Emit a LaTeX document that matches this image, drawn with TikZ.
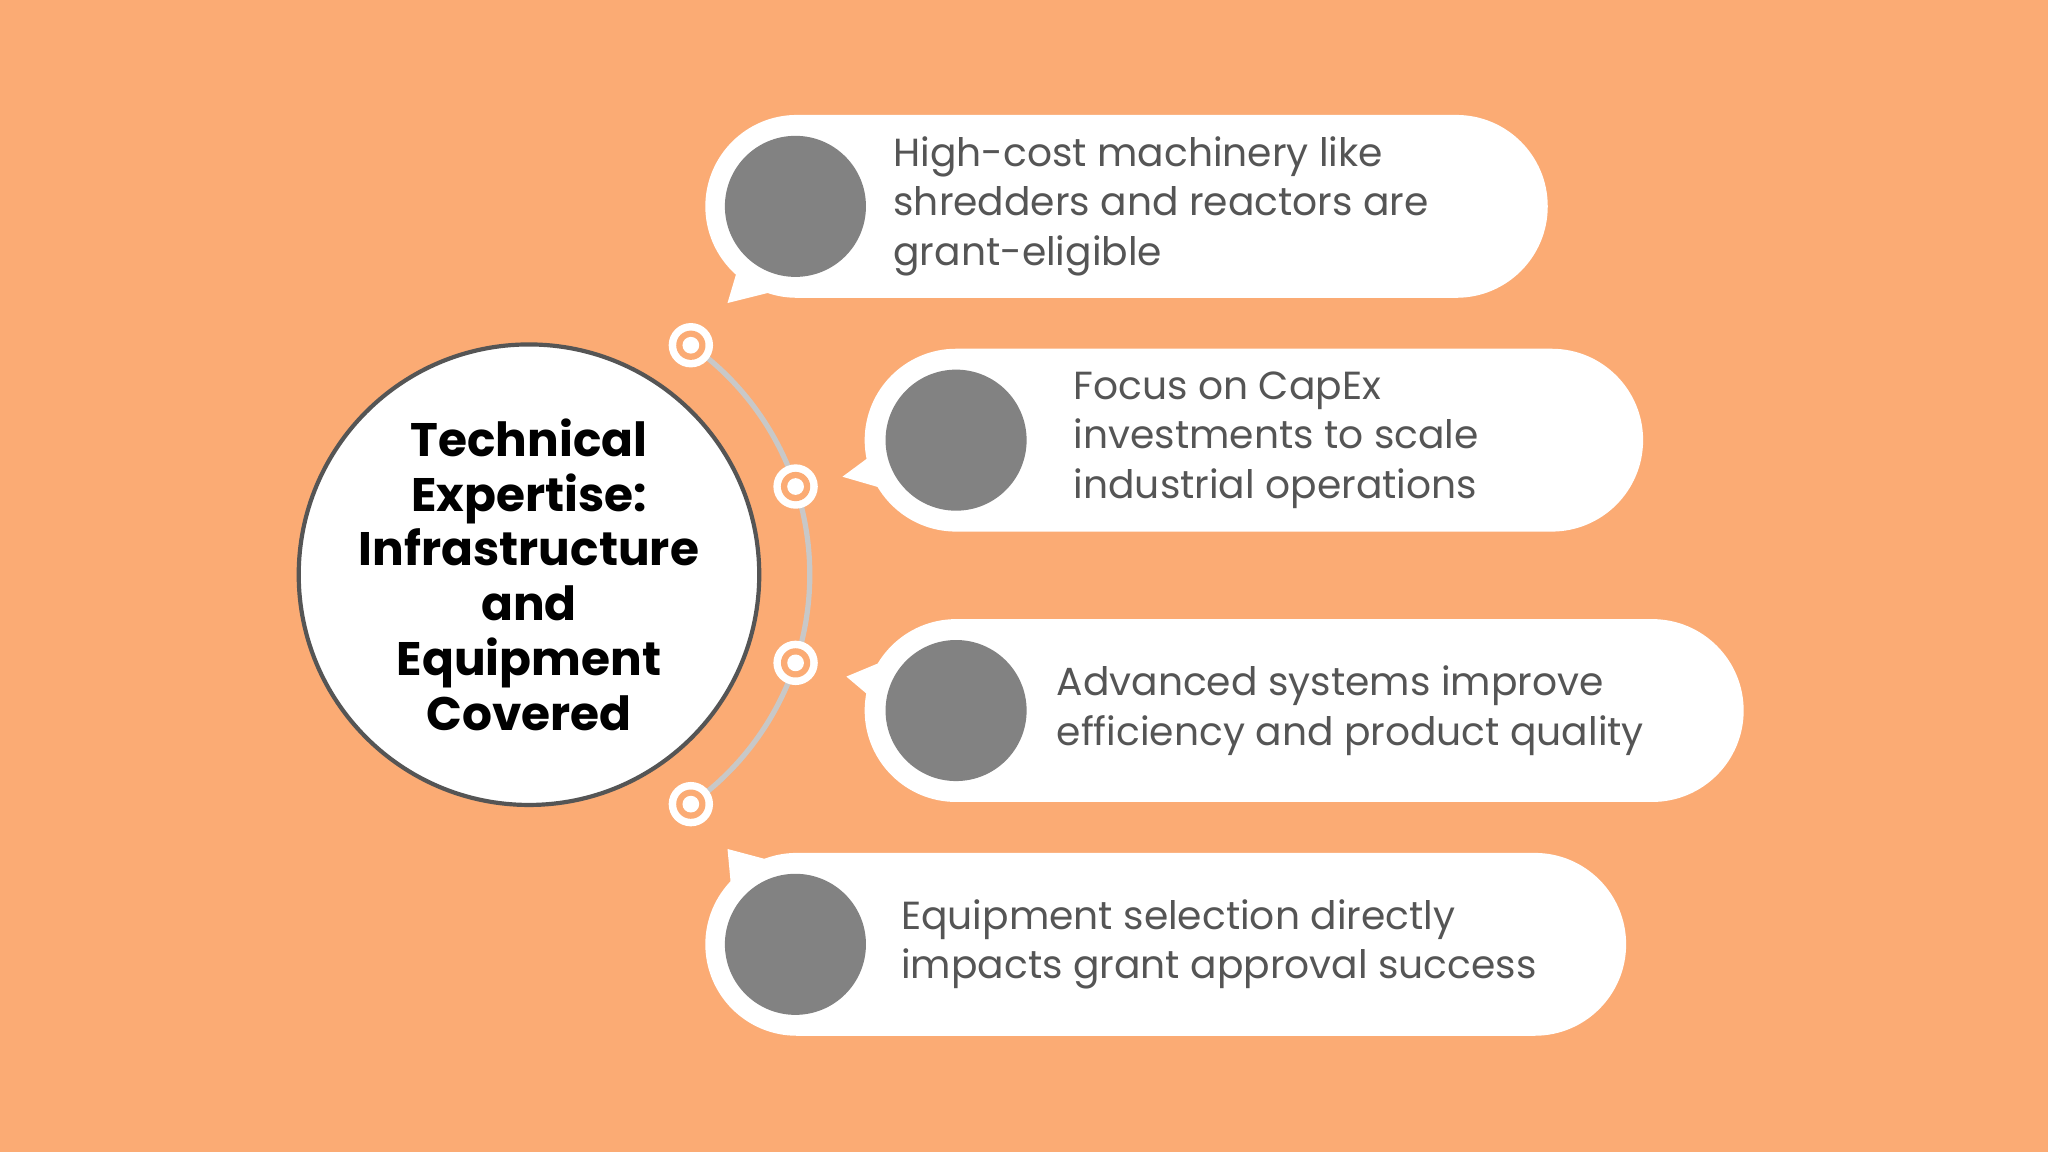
\documentclass[tikz,border=0pt]{standalone}
\usepackage{fontspec}
\setmainfont{Poppins}
\definecolor{bg}{HTML}{FBAB74}
\definecolor{txt}{HTML}{555555}
\definecolor{dot}{HTML}{828282}
\definecolor{arcc}{HTML}{C8C8C8}
\begin{document}
\begin{tikzpicture}[x=0.5pt,y=-0.5pt,
  pill/.style={fill=white,rounded corners=35pt},
  gdot/.style={circle,fill=dot,minimum size=54pt,inner sep=0pt},
  btxt/.style={anchor=west,align=left,text=txt,font=\fontsize{15}{19}\selectfont},
  ring/.style={circle,fill=white,minimum size=17pt,inner sep=0pt,path picture={
     \fill[bg] (path picture bounding box.center) circle (5.6pt);
     \fill[white] (path picture bounding box.center) circle (3.2pt);}}]
\fill[bg] (0,0) rectangle (1568,882);
\useasboundingbox (0,0) rectangle (1568,882);
\coordinate (c) at (405,440);
% arc
\draw[arcc,line width=2pt] (c) ++(54.8:107.5pt) arc[start angle=54.8,end angle=-54.8,radius=107.5pt];
% central circle
\node[circle,fill=white,draw=txt,line width=1.6pt,minimum size=170pt,inner sep=0pt,
  align=center,font=\bfseries\fontsize{18}{21}\selectfont] (main) at (c)
  {Technical\\Expertise:\\Infrastructure\\and\\Equipment\\Covered};
% rings
\path (c) ++(54.8:107.5pt) node[ring] (r1) {};
\path (c) ++(18.3:107.5pt) node[ring] (r2) {};
\path (c) ++(-18.3:107.5pt) node[ring] (r3) {};
\path (c) ++(-54.8:107.5pt) node[ring] (r4) {};
% bubble 1
\fill[white] (565,205) -- (605,220) -- (557,232) -- cycle;
\fill[pill] (540,88) rectangle (1185,228);
\node[gdot] (d1) at (609,158) {};
\node[btxt] (t1) at (677,158) {High-cost machinery like\\shredders and reactors are\\grant-eligible};
% bubble 2
\fill[white] (672,345) -- (676,374) -- (645,365) -- cycle;
\fill[pill] (662,267) rectangle (1258,407);
\node[gdot] (d2) at (732,337) {};
\node[btxt] (t2) at (815,337) {Focus on CapEx\\investments to scale\\industrial operations};
% bubble 3
\fill[white] (672,508) -- (674,540) -- (648,518) -- cycle;
\fill[pill] (662,474) rectangle (1335,614);
\node[gdot] (d3) at (732,544) {};
\node[btxt] (t3) at (802,544) {Advanced systems improve\\efficiency and product quality};
% bubble 4
\fill[white] (560,682) -- (602,662) -- (557,650) -- cycle;
\fill[pill] (540,653) rectangle (1245,793);
\node[gdot] (d4) at (609,723) {};
\node[btxt] (t4) at (683,723) {Equipment selection directly\\impacts grant approval success};
\end{tikzpicture}
\end{document}
